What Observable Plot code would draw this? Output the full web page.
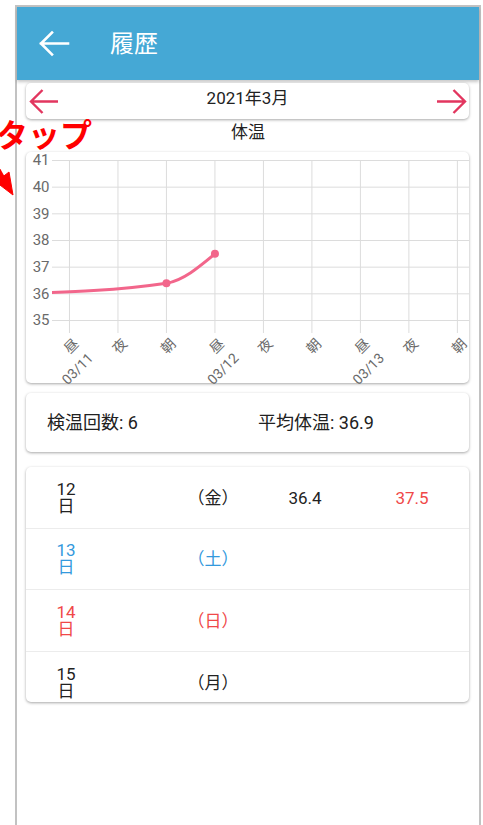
<!DOCTYPE html>
<html lang="ja"><head><meta charset="utf-8">
<script src="https://cdn.jsdelivr.net/npm/d3@7"></script>
<script src="https://cdn.jsdelivr.net/npm/@observablehq/plot@0.6"></script>
<style>
html,body{margin:0;padding:0}
body{width:483px;height:825px;overflow:hidden;background:#fff;position:relative;font-family:Roboto,"Noto Sans CJK JP",sans-serif;color:#212121}
.abs{position:absolute}
.frame{left:15px;top:5px;width:466px;height:840px;border:2px solid #c2c2c2;border-bottom:0;box-sizing:border-box}
.header{left:17px;top:7px;width:462px;height:73px;background:#45a8d5;box-shadow:0 2px 3px rgba(0,0,0,.22)}
.title{left:110px;top:26px;font-size:24px;line-height:36px;color:#fff}
.card{background:#fff;border-radius:5px;box-shadow:0 1px 3px rgba(0,0,0,.35)}
.month{left:26px;top:83px;width:443px;height:36px}
.monthtxt{left:0;width:443px;top:3px;text-align:center;font-size:17px;line-height:24px;color:#222}
.tap{left:-4px;top:113px;font-size:32px;line-height:40px;font-weight:bold;color:#ff0000;font-family:"Noto Sans CJK JP",sans-serif}
.charttitle{left:0;width:496px;top:121px;text-align:center;font-size:17px;line-height:22px;color:#222}
.chartcard{left:26px;top:152px;width:443px;height:231px}
.chartcard svg{overflow:visible}
.stats{left:26px;top:393px;width:443px;height:59px;font-size:18px}
.stats div{position:absolute;top:0;line-height:59px}
.table{left:26px;top:467px;width:443px;height:235px;overflow:hidden}
.row{position:absolute;left:0;width:443px;height:61.7px;border-bottom:1px solid #ececec;box-sizing:border-box}
.day{position:absolute;left:20px;width:40px;text-align:center;font-size:17px;line-height:17px}
.cell{position:absolute;font-size:17px;line-height:20px;text-align:center}
</style></head>
<body>
<div class="abs frame"></div>
<div class="abs header"></div>
<svg class="abs" style="left:0;top:0" width="483" height="200">
  <g fill="none" stroke="#fff" stroke-width="2.6" stroke-linecap="square">
    <path d="M41 43.5H68M52 32.5L41 43.5L52 54.5"/>
  </g>
</svg>
<div class="abs title">履歴</div>
<div class="abs card month"><div class="abs monthtxt">2021年3月</div></div>
<svg class="abs" style="left:0;top:0" width="483" height="200">
  <g fill="none" stroke="#e2365f" stroke-width="2.4">
    <path d="M31 101.5H58M42.5 90L31 101.5L42.5 113"/>
    <path d="M437 101.5H465M453.5 90L465 101.5L453.5 113"/>
  </g>
  <g fill="#ff0000" stroke="#ff0000">
    <path d="M-14 148L4 180" stroke-width="4.5"/>
    <path d="M13 195L-4 182L9 172Z"/>
  </g>
</svg>
<div class="abs tap">タップ</div>
<div class="abs charttitle">体温</div>
<div class="abs card chartcard" id="chart"></div>
<div class="abs card stats" id="stats"></div>
<div class="abs card table" id="table"></div>
<script>
// ---- chart data ----
const slotNames = ["朝","昼","夜","朝","昼","夜","朝","昼","夜","朝"];
const slotDates = ["03/11","03/11","03/11","03/12","03/12","03/12","03/13","03/13","03/13","03/14"];
const visibleSlots = [1,2,3,4,5,6,7,8,9];
const readingSlots = [0, 3, 4];
const readingValues = [36.0, 36.4, 37.5];
const yTicks = [35,36,37,38,39,40,41];

// ---- summary / table data ----
const countLabel = "検温回数: 6";
const avgLabel = "平均体温: 36.9";
const days = ["12","13","14","15"];
const weekdays = ["金","土","日","月"];
const morningTemps = ["36.4","","",""];
const noonTemps = ["37.5","","",""];

const pink = "#f2668b";
const gridColor = "#dcdcdc";
const labelColor = "#6a6a6a";

const readings = readingSlots.map((s, i) => ({slot: s, value: readingValues[i]}));

const chart = Plot.plot({
  width: 443, height: 231,
  marginLeft: 26, marginRight: 0, marginTop: 8, marginBottom: 63,
  x: {type: "linear", domain: [0.65, 9.25]},
  y: {domain: [35, 41]},
  style: {fontFamily: "Roboto, 'Noto Sans CJK JP', sans-serif", background: "transparent", overflow: "visible"},
  marks: [
    Plot.gridY(yTicks, {stroke: gridColor, strokeOpacity: 1}),
    Plot.gridX(visibleSlots, {stroke: gridColor, strokeOpacity: 1}),
    Plot.axisY(yTicks, {tickSize: 0, tickPadding: 3, fontSize: 15, fill: labelColor, label: null}),
    Plot.axisX(visibleSlots, {
      tickSize: 13, tickPadding: 1, tickRotate: -45, textAnchor: "end", lineAnchor: "top",
      lineHeight: 1.45, fontSize: 14, fill: labelColor, stroke: gridColor, label: null,
      tickFormat: i => slotNames[i] === "昼" ? `${slotNames[i]}\n${slotDates[i]}` : slotNames[i]
    }),
    Plot.line(readings, {x: "slot", y: "value", stroke: pink, strokeWidth: 3, curve: "monotone-x", clip: true}),
    Plot.dot(readings, {x: "slot", y: "value", r: 4, fill: pink, clip: true})
  ]
});
document.getElementById("chart").appendChild(chart);

// summary
const stats = document.getElementById("stats");
stats.innerHTML = `<div style="left:21px">${countLabel}</div><div style="left:232px">${avgLabel}</div>`;

// table
const colorFor = w => w === "土" ? "#3399dd" : w === "日" ? "#f04848" : "#222";
const table = document.getElementById("table");
days.forEach((d, i) => {
  const row = document.createElement("div");
  row.className = "row";
  row.style.top = (i * 61.7) + "px";
  const c = colorFor(weekdays[i]);
  const mid = 30.5;
  row.innerHTML =
    `<div class="day" style="top:${mid-17}px;color:${c}">${d}<br>日</div>` +
    `<div class="cell" style="left:147px;width:80px;top:${mid-10}px;color:${c}">（${weekdays[i]}）</div>` +
    `<div class="cell" style="left:239px;width:80px;top:${mid-10}px;color:#222">${morningTemps[i]}</div>` +
    `<div class="cell" style="left:346px;width:80px;top:${mid-10}px;color:${parseFloat(noonTemps[i])>=37.5?"#f04848":"#222"}">${noonTemps[i]}</div>`;
  table.appendChild(row);
});
</script>
</body></html>
